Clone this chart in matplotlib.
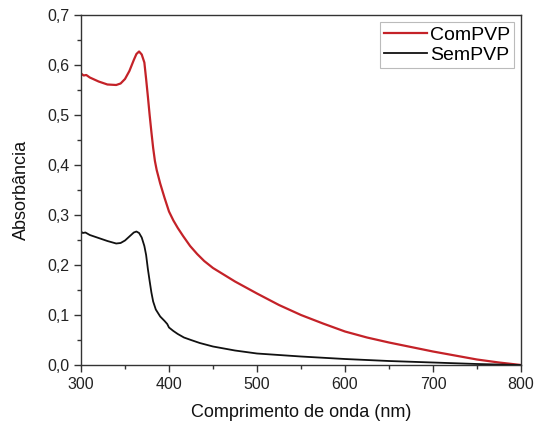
import matplotlib
matplotlib.use('Agg')
import matplotlib.pyplot as plt
from matplotlib.ticker import MultipleLocator, FuncFormatter

plt.rcParams['font.family'] = ['Liberation Sans', 'DejaVu Sans']

# Wavelength (nm) and absorbance
wl_com = [300, 303, 306, 310, 320, 330, 340, 345, 350, 355, 360, 363, 366, 369,
          372, 374, 376, 378, 380, 382, 384, 386, 390, 395, 400, 405, 410, 416,
          424, 432, 440, 450, 475, 500, 525, 550, 575, 600, 625, 650, 675, 700,
          725, 750, 775, 800]
abs_com = [0.583, 0.579, 0.580, 0.575, 0.567, 0.561, 0.560, 0.563, 0.572, 0.588,
           0.610, 0.622, 0.627, 0.621, 0.605, 0.572, 0.537, 0.500, 0.466, 0.434,
           0.408, 0.390, 0.363, 0.334, 0.307, 0.289, 0.274, 0.258, 0.238, 0.222,
           0.208, 0.194, 0.167, 0.143, 0.120, 0.100, 0.083, 0.067, 0.055, 0.045,
           0.036, 0.027, 0.019, 0.011, 0.005, 0.000]

wl_sem = [300, 302, 305, 310, 320, 330, 340, 345, 350, 355, 360, 363, 366, 369,
          372, 374, 376, 378, 380, 382, 385, 390, 395, 398, 400, 405, 410, 417,
          425, 435, 450, 475, 500, 550, 600, 650, 700, 750, 800]
abs_sem = [0.267, 0.264, 0.265, 0.260, 0.254, 0.248, 0.243, 0.244, 0.249, 0.257,
           0.265, 0.267, 0.264, 0.255, 0.238, 0.220, 0.192, 0.168, 0.145, 0.127,
           0.111, 0.097, 0.088, 0.082, 0.075, 0.068, 0.062, 0.055, 0.050, 0.044,
           0.037, 0.029, 0.023, 0.017, 0.012, 0.008, 0.005, 0.002, 0.000]

fig = plt.figure(figsize=(5.35, 4.21), dpi=100)
ax = fig.add_axes([0.1514, 0.133, 0.8224, 0.8314])

ax.plot(wl_com, abs_com, color='#c42228', lw=1.6, label='ComPVP')
ax.plot(wl_sem, abs_sem, color='#111111', lw=1.3, label='SemPVP')

ax.set_xlim(300, 800)
ax.set_ylim(0, 0.7)
ax.xaxis.set_major_locator(MultipleLocator(100))
ax.xaxis.set_minor_locator(MultipleLocator(50))
ax.yaxis.set_major_locator(MultipleLocator(0.1))
ax.yaxis.set_minor_locator(MultipleLocator(0.05))
ax.yaxis.set_major_formatter(FuncFormatter(lambda v, p: f'{v:.1f}'.replace('.', ',')))

for s in ax.spines.values():
    s.set_color('#333333')
    s.set_linewidth(1.0)
ax.tick_params(which='both', direction='out', top=False, right=False,
               colors='#333333', labelcolor='#222222', labelsize=11.5)
ax.tick_params(which='major', length=5, width=1)
ax.tick_params(which='minor', length=3, width=1)

ax.set_xlabel('Comprimento de onda (nm)', fontsize=13, color='#111111', labelpad=9)
ax.set_ylabel('Absorbância', fontsize=13, color='#111111', labelpad=12)

leg = ax.legend(loc='upper right', fontsize=14, frameon=True, fancybox=False,
                borderpad=0.22, handlelength=2.2, handletextpad=0.15,
                labelspacing=0.15, borderaxespad=0.35)
leg.get_frame().set_edgecolor('#aaaaaa')
leg.get_frame().set_linewidth(0.8)

fig.savefig('out.png', dpi=100)
